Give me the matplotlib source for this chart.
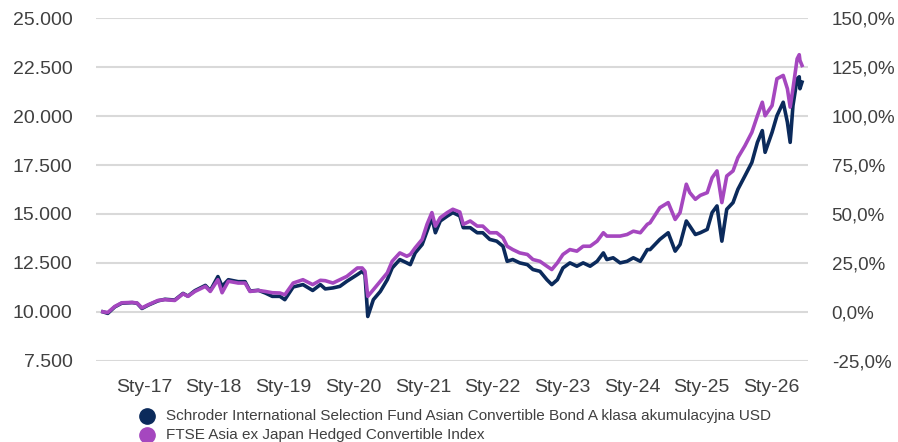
import matplotlib
matplotlib.use("Agg")
import matplotlib.pyplot as plt
from matplotlib.lines import Line2D
from matplotlib.ticker import FuncFormatter
from matplotlib import font_manager

plt.rcParams['font.family'] = ['Liberation Sans', 'DejaVu Sans']

# time as fractional years (growth of 10.000)
t = [2016.41, 2016.48, 2016.58, 2016.68, 2016.83, 2016.90, 2016.97, 2017.06, 2017.20, 2017.30,
     2017.44, 2017.56, 2017.63, 2017.73, 2017.88, 2017.95, 2018.06, 2018.12, 2018.21, 2018.35,
     2018.45, 2018.52, 2018.64, 2018.74, 2018.84, 2018.95, 2019.02, 2019.14, 2019.28, 2019.42,
     2019.53, 2019.60, 2019.71, 2019.81, 2019.91, 2020.06, 2020.13, 2020.17, 2020.21, 2020.29,
     2020.39, 2020.49, 2020.56, 2020.67, 2020.77, 2020.82, 2020.89, 2020.99, 2021.06, 2021.13,
     2021.18, 2021.25, 2021.35, 2021.43, 2021.53, 2021.58, 2021.68, 2021.78, 2021.86, 2021.96,
     2022.06, 2022.15, 2022.21, 2022.29, 2022.39, 2022.50, 2022.58, 2022.68, 2022.78, 2022.85,
     2022.93, 2023.01, 2023.11, 2023.21, 2023.30, 2023.40, 2023.50, 2023.59, 2023.64, 2023.73,
     2023.83, 2023.93, 2024.02, 2024.12, 2024.22, 2024.26, 2024.40, 2024.52, 2024.62, 2024.69,
     2024.78, 2024.83, 2024.91, 2024.98, 2025.08, 2025.15, 2025.22, 2025.29, 2025.36, 2025.45,
     2025.52, 2025.62, 2025.72, 2025.80, 2025.87, 2025.91, 2026.01, 2026.08, 2026.17, 2026.23,
     2026.27, 2026.31, 2026.37, 2026.40, 2026.41, 2026.44]

fund = [10000, 9920, 10250, 10440, 10470, 10440, 10170, 10340, 10560, 10640,
        10600, 10940, 10800, 11080, 11350, 11080, 11800, 11300, 11640, 11540,
        11540, 11060, 11100, 10960, 10790, 10790, 10620, 11270, 11390, 11090,
        11390, 11170, 11220, 11300, 11560, 11900, 12070, 11900, 9760, 10620,
        11040, 11640, 12240, 12670, 12500, 12410, 13010, 13440, 14120, 14810,
        14040, 14640, 14890, 15070, 14900, 14300, 14300, 14040, 14040, 13700,
        13610, 13350, 12580, 12670, 12500, 12410, 12160, 12070, 11640, 11390,
        11640, 12240, 12500, 12330, 12500, 12330, 12580, 13010, 12670, 12760,
        12500, 12580, 12760, 12580, 13180, 13180, 13700, 14040, 13100, 13440,
        14640, 14380, 13950, 14040, 14210, 15070, 15410, 13610, 15240, 15580,
        16260, 16940, 17630, 18660, 19260, 18150, 19170, 20020, 20710, 19690,
        18660, 20540, 21910, 22010, 21400, 21740]

index = [10000, 9965, 10270, 10460, 10480, 10450, 10200, 10360, 10580, 10620,
         10580, 10920, 10790, 11040, 11300, 11040, 11640, 10975, 11560, 11470,
         11470, 11040, 11090, 11040, 10975, 10960, 10870, 11470, 11640, 11390,
         11610, 11590, 11470, 11640, 11810, 12240, 12240, 12070, 10790, 11130,
         11560, 11990, 12580, 13010, 12840, 12930, 13270, 13700, 14470, 15070,
         14380, 14810, 15070, 15240, 15100, 14470, 14640, 14380, 14380, 14040,
         14040, 13780, 13350, 13180, 13010, 12930, 12670, 12580, 12330, 12160,
         12500, 12930, 13180, 13100, 13350, 13350, 13610, 14040, 13870, 13870,
         13870, 13950, 14120, 14040, 14470, 14550, 15320, 15580, 14720, 15070,
         16520, 16090, 15750, 15950, 16090, 16850, 17200, 15580, 16940, 17200,
         17880, 18480, 19170, 20020, 20710, 20020, 20540, 21910, 22080, 21400,
         20460, 21400, 22930, 23140, 22850, 22590]

years = [2017, 2018, 2019, 2020, 2021, 2022, 2023, 2024, 2025, 2026]
year_labels = ['Sty-17', 'Sty-18', 'Sty-19', 'Sty-20', 'Sty-21',
               'Sty-22', 'Sty-23', 'Sty-24', 'Sty-25', 'Sty-26']
left_ticks = [7500, 10000, 12500, 15000, 17500, 20000, 22500, 25000]
right_ticks = [-25, 0, 25, 50, 75, 100, 125, 150]

names = ['Schroder International Selection Fund Asian Convertible Bond A klasa akumulacyjna USD',
         'FTSE Asia ex Japan Hedged Convertible Index']
navy = '#0b2a5b'
purple = '#a547bf'
txt = '#404040'

fig = plt.figure(figsize=(8.98, 4.42), dpi=100)
ax = fig.add_axes([0.1069, 0.1839, 0.7929, 0.7747])

ax.plot(t, fund, color=navy, lw=2.6, solid_joinstyle='round')
ax.plot(t, index, color=purple, lw=2.6, solid_joinstyle='round')

ax.set_xlim(2016.311, 2026.526)
ax.set_ylim(7500, 25000)
ax.set_yticks(left_ticks)
ax.yaxis.set_major_formatter(FuncFormatter(lambda v, p: '{:,.0f}'.format(v).replace(',', '.')))
ax.set_xticks(years)
ax.set_xticklabels(year_labels)

# grid only, no frame
ax.grid(True, axis='y', color='#d9d9d9', lw=1.5)
ax.set_axisbelow(True)
for s in ax.spines.values():
    s.set_visible(False)
ax.tick_params(axis='both', length=0, labelsize=14, labelcolor=txt)
ax.tick_params(axis='y', pad=17)
ax.tick_params(axis='x', pad=13)

# right axis as percent change
ax2 = ax.twinx()
ax2.set_ylim(-25, 150)
ax2.set_yticks(right_ticks)
ax2.yaxis.set_major_formatter(FuncFormatter(lambda v, p: '{:.1f}%'.format(v).replace('.', ',')))
for s in ax2.spines.values():
    s.set_visible(False)
ax2.tick_params(axis='y', length=0, labelsize=13.5, labelcolor=txt, pad=17)

# legend drawn by hand: narrow font if there is one
fams = set(f.name for f in font_manager.fontManager.ttflist)
if 'Liberation Sans Narrow' in fams:
    lfam, lsize = ['Liberation Sans Narrow', 'DejaVu Sans'], 13.4
else:
    lfam, lsize = ['Liberation Sans', 'DejaVu Sans'], 11

rows = [1 - 416 / 442, 1 - 435 / 442]
for name, col, y in zip(names, (navy, purple), rows):
    fig.add_artist(Line2D([147 / 898], [y], transform=fig.transFigure,
                          ls='none', marker='o', ms=11, color=col))
    fig.text(166 / 898, y, name, ha='left', va='center', fontsize=lsize,
             family=lfam, color=txt)

fig.savefig('out.png', dpi=100)
